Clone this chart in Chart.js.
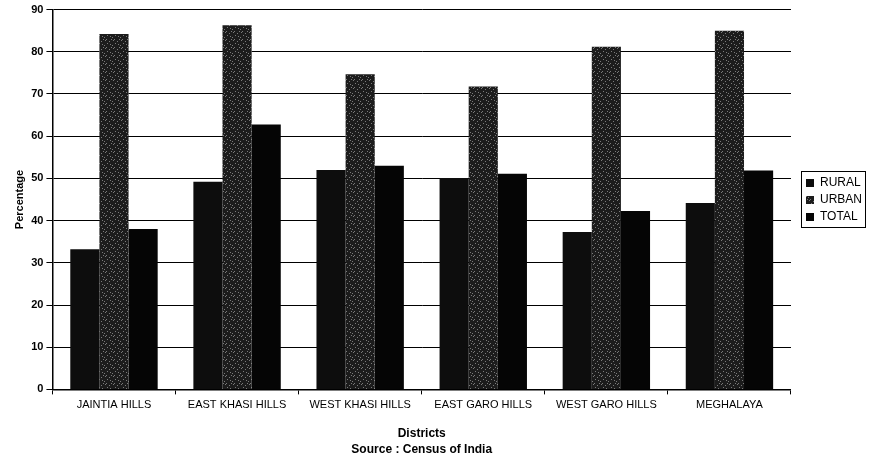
<!DOCTYPE html>
<html lang="en">
<head>
    <meta charset="UTF-8">
    <title>Districts - Percentage</title>
    <style>
        body {
            background-color: #fff;
            margin: 0;
            padding: 0;
        }
    </style>
    <script src="https://cdn.jsdelivr.net/npm/chart.js"></script>
</head>
<body>
    <canvas id="myBarChart" width="870" height="460"></canvas>

    <script>
        // dados
        var districts = ['JAINTIA HILLS', 'EAST KHASI HILLS', 'WEST KHASI HILLS', 'EAST GARO HILLS', 'WEST GARO HILLS', 'MEGHALAYA'];
        var rural = [33.2, 49.2, 52.0, 50.1, 37.3, 44.2];
        var urban = [84.2, 86.3, 74.7, 71.8, 81.2, 85.0];
        var total = [38.0, 62.8, 53.0, 51.1, 42.3, 51.9];
        var yTicks = [0, 10, 20, 30, 40, 50, 60, 70, 80, 90];

        // textura pontilhada para a serie urbana
        function speckle() {
            var c = document.createElement('canvas');
            c.width = 8; c.height = 8;
            var g = c.getContext('2d');
            g.fillStyle = '#1c1c1c';
            g.fillRect(0, 0, 8, 8);
            g.fillStyle = '#7a7a7a';
            [[1, 0], [5, 1], [3, 3], [0, 5], [6, 4], [2, 7], [7, 7]].forEach(function(p) {
                g.fillRect(p[0], p[1], 1, 1);
            });
            return g.createPattern(c, 'repeat');
        }

        // legenda um pouco acima do centro, mais a direita, com moldura
        var legendBox = {
            id: 'legendBox',
            afterLayout: function(chart) {
                var l = chart.legend;
                l.bottom = 2 * 200 - l.top;
                l.left += 10;
                l.right += 10;
            },
            afterDraw: function(chart) {
                var boxes = chart.legend.legendHitBoxes;
                if (!boxes || !boxes.length) return;
                var x0 = Math.min.apply(null, boxes.map(function(b) { return b.left; }));
                var x1 = Math.max.apply(null, boxes.map(function(b) { return b.left + b.width; }));
                var y0 = Math.min.apply(null, boxes.map(function(b) { return b.top; }));
                var y1 = Math.max.apply(null, boxes.map(function(b) { return b.top + b.height; }));
                var ctx = chart.ctx;
                ctx.save();
                ctx.strokeStyle = '#000';
                ctx.lineWidth = 1;
                ctx.strokeRect(Math.round(x0) - 4.5, Math.round(y0) - 5.5, Math.round(x1 - x0) + 8, Math.round(y1 - y0) + 10);
                ctx.restore();
            }
        };

        document.addEventListener('DOMContentLoaded', function() {
            var ctx = document.getElementById('myBarChart').getContext('2d');
            var urbanFill = speckle();
            new Chart(ctx, {
                type: 'bar',
                data: {
                    labels: districts,
                    datasets: [
                        { label: 'RURAL', data: rural, backgroundColor: '#0d0d0d' },
                        { label: 'URBAN', data: urban, backgroundColor: urbanFill },
                        { label: 'TOTAL', data: total, backgroundColor: '#050505' }
                    ]
                },
                plugins: [legendBox],
                options: {
                    responsive: false,
                    animation: false,
                    devicePixelRatio: 1,
                    layout: { padding: { top: 6, left: 13, right: 8, bottom: 2 } },
                    datasets: {
                        bar: { categoryPercentage: 0.71, barPercentage: 1.0 }
                    },
                    scales: {
                        x: {
                            grid: { display: true, drawOnChartArea: false, drawTicks: true, tickLength: 5, color: '#000' },
                            border: { color: '#000', width: 1.5 },
                            ticks: {
                                color: '#000',
                                maxRotation: 0,
                                autoSkip: false,
                                padding: 4,
                                font: { family: 'Liberation Sans, Arial', size: 11 }
                            },
                            title: {
                                display: true,
                                text: ['Districts', 'Source : Census of India'],
                                color: '#000',
                                padding: { top: 10, bottom: 0 },
                                font: { family: 'Liberation Sans, Arial', size: 12, weight: 'bold', lineHeight: 1.35 }
                            }
                        },
                        y: {
                            min: 0,
                            max: 90,
                            afterBuildTicks: function(axis) {
                                axis.ticks = yTicks.map(function(v) { return { value: v }; });
                            },
                            grid: { color: '#000', lineWidth: 1, tickLength: 6 },
                            border: { color: '#000', width: 1.5 },
                            ticks: {
                                color: '#000',
                                padding: 3,
                                font: { family: 'Liberation Sans, Arial', size: 11, weight: 'bold' }
                            },
                            title: {
                                display: true,
                                text: 'Percentage',
                                color: '#000',
                                padding: { top: 0, bottom: 2 },
                                font: { family: 'Liberation Sans, Arial', size: 11, weight: 'bold' }
                            }
                        }
                    },
                    plugins: {
                        legend: {
                            display: true,
                            position: 'right',
                            labels: {
                                color: '#000',
                                boxWidth: 8,
                                boxHeight: 8,
                                padding: 5,
                                font: { family: 'Liberation Sans, Arial', size: 12 }
                            }
                        },
                        tooltip: { enabled: false }
                    }
                }
            });
        });
    </script>
</body>
</html>
